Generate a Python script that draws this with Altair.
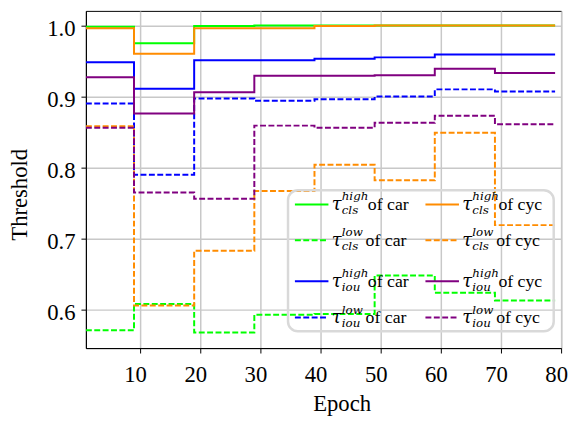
import altair as alt
import pandas as pd

# ---------------- data ----------------
epochs = [1, 9, 19, 29, 39, 49, 59, 69, 79]

car_cls_high = [0.998, 0.975, 0.999, 1.000, 1.000, 1.000, 1.000, 1.000]
car_cls_low = [0.571, 0.608, 0.568, 0.593, 0.594, 0.648, 0.624, 0.613]
car_iou_high = [0.948, 0.911, 0.951, 0.951, 0.953, 0.955, 0.959, 0.959]
car_iou_low = [0.890, 0.790, 0.897, 0.894, 0.896, 0.900, 0.910, 0.907]
cyc_cls_high = [0.996, 0.960, 0.996, 0.996, 0.999, 1.000, 1.000, 1.000]
cyc_cls_low = [0.858, 0.606, 0.683, 0.767, 0.804, 0.782, 0.849, 0.719]
cyc_iou_high = [0.927, 0.876, 0.906, 0.929, 0.929, 0.930, 0.939, 0.933]
cyc_iou_low = [0.856, 0.765, 0.756, 0.859, 0.856, 0.863, 0.873, 0.861]

x_ticks = [10, 20, 30, 40, 50, 60, 70, 80]
y_ticks = [0.6, 0.7, 0.8, 0.9, 1.0]

# (values, superscript, subscript, class, color, dashed, legend col, legend row)
series = [
    (car_cls_high, "high", "cls", "car", "#00ff00", False, 0, 0),
    (car_cls_low, "low", "cls", "car", "#00ff00", True, 0, 1),
    (car_iou_high, "high", "iou", "car", "#0000ff", False, 0, 2),
    (car_iou_low, "low", "iou", "car", "#0000ff", True, 0, 3),
    (cyc_cls_high, "high", "cls", "cyc", "#ff8c00", False, 1, 0),
    (cyc_cls_low, "low", "cls", "cyc", "#ff8c00", True, 1, 1),
    (cyc_iou_high, "high", "iou", "cyc", "#800080", False, 1, 2),
    (cyc_iou_low, "low", "iou", "cyc", "#800080", True, 1, 3),
]

# ---------------- styles ----------------
W, H = 482, 342
DASH = [6, 2.5]
SERIF = "Liberation Serif"
MATH = "DejaVu Serif"

xscale = alt.Scale(domain=[1, 80], nice=False, zero=False)
yscale = alt.Scale(domain=[0.546, 1.0204], nice=False, zero=False)

common_axis = dict(
    grid=True, gridColor="#c8c8c8", gridWidth=1.5,
    domainColor="black", domainWidth=1,
    tickColor="black", tickSize=5, tickWidth=1,
    labelFont=SERIF, labelFontSize=23, labelColor="black",
    labelOverlap=False, labelFlush=False,
    titleFont=SERIF, titleFontSize=23, titleFontWeight="normal", titleColor="black",
)

xaxis = alt.Axis(values=x_ticks, title="Epoch", labelPadding=11, labelOffset=-5,
                 titleX=259.4, titleY=63, titleAlign="center",
                 titleBaseline="alphabetic", **common_axis)
yaxis = alt.Axis(values=y_ticks, format=".1f", title="Threshold",
                 labelPadding=6, labelOffset=3, titleAngle=270,
                 titleX=-60.6, titleY=186, titleAlign="center",
                 titleBaseline="alphabetic", **common_axis)

layers = []
for vals, sup, sub, cls_name, color, dashed, col, row in series:
    df = pd.DataFrame({"epoch": epochs, "value": vals + [vals[-1]]})
    mk = dict(interpolate="step-after", color=color, strokeWidth=2, clip=True)
    if dashed:
        mk["strokeDash"] = DASH
    layers.append(
        alt.Chart(df).mark_line(**mk).encode(
            x=alt.X("epoch:Q", scale=xscale, axis=xaxis),
            y=alt.Y("value:Q", scale=yscale, axis=yaxis),
        )
    )

# ---------------- custom legend ----------------
dummy = pd.DataFrame({"k": [0]})
layers.append(
    alt.Chart(dummy).mark_rect(cornerRadius=10, fill="white", fillOpacity=0,
                               stroke="#d9d9d9", strokeWidth=2.5).encode(
        x=alt.value(205), x2=alt.value(474.5), y=alt.value(182), y2=alt.value(325)
    )
)

row_y = [196.3, 232.7, 274.3, 311.0]
col_dx = [0, 132.4]
for vals, sup, sub, cls_name, color, dashed, col, row in series:
    L = row_y[row]
    ox = col_dx[col]
    rk = dict(color=color, strokeWidth=2)
    if dashed:
        rk["strokeDash"] = DASH
    layers.append(alt.Chart(dummy).mark_rule(**rk).encode(
        x=alt.value(212 + ox), x2=alt.value(246 + ox), y=alt.value(L)))
    layers.append(alt.Chart(dummy).mark_text(
        text="τ", font=MATH, fontSize=18, fontStyle="italic", align="left",
        baseline="alphabetic", color="black").encode(
        x=alt.value(249.4 + ox), y=alt.value(L + 6)))
    layers.append(alt.Chart(dummy).mark_text(
        text=sup, font=MATH, fontSize=12, fontStyle="italic", align="left",
        baseline="alphabetic", color="black").encode(
        x=alt.value(259.5 + ox), y=alt.value(L - 4)))
    layers.append(alt.Chart(dummy).mark_text(
        text=sub, font=MATH, fontSize=12, fontStyle="italic", align="left",
        baseline="alphabetic", color="black").encode(
        x=alt.value(259.5 + ox), y=alt.value(L + 9.7)))
    of_x = 286 if sup == "high" else 283.7
    layers.append(alt.Chart(dummy).mark_text(
        text="of " + cls_name, font=SERIF, fontSize=18, align="left",
        baseline="alphabetic", color="black").encode(
        x=alt.value(of_x + ox), y=alt.value(L + 6)))

chart = alt.layer(*layers).properties(
    width=W, height=H,
    padding={"left": 79, "top": 0, "right": 8, "bottom": 70},
    autosize=alt.AutoSizeParams(type="none"),
).configure_view(stroke="black", strokeWidth=1)

chart.save("out.html", embed_options={"renderer": "svg", "actions": False})
